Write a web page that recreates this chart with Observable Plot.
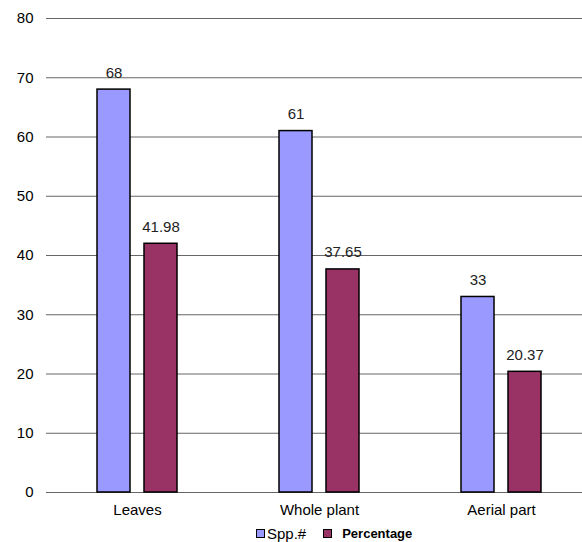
<!DOCTYPE html>
<html><head><meta charset="utf-8">
<script src="https://cdn.jsdelivr.net/npm/d3@7"></script>
<script src="https://cdn.jsdelivr.net/npm/@observablehq/plot@0.6"></script>
<style>
body{margin:0;background:#fff;font-family:"Liberation Sans",Arial,sans-serif;}
#wrap{position:relative;width:582px;height:542px;overflow:hidden;}
#legend{position:absolute;left:256px;top:525px;height:17px;display:flex;align-items:center;font-size:15px;color:#000;white-space:nowrap;}
.sw{display:inline-block;width:7px;height:7px;border:1px solid #000;margin-right:2px;}
</style></head>
<body><div id="wrap"><div id="chart"></div>
<div id="legend"><span class="sw" style="background:#9999FF"></span><span>Spp.#</span><span class="sw" style="background:#993366;margin-left:17px;margin-right:10px"></span><span style="font-weight:bold;font-size:13px">Percentage</span></div></div>
<script>
const categories = ["Leaves", "Whole plant", "Aerial part"];
const series = ["Spp.#", "Percentage"];
const sppValues = [68, 61, 33];
const pctValues = [41.98, 37.65, 20.37];
const yTicks = [0, 10, 20, 30, 40, 50, 60, 70, 80];
const colors = ["#9999FF", "#993366"];

const data = [];
categories.forEach((c, i) => {
  data.push({cat: c, s: series[0], v: sppValues[i], label: String(sppValues[i])});
  data.push({cat: c, s: series[1], v: pctValues[i], label: pctValues[i].toFixed(2)});
});

const chart = Plot.plot({
  width: 582,
  height: 518,
  marginTop: 18,
  marginBottom: 26,
  marginLeft: 45,
  marginRight: 0,
  style: {fontFamily: "'Liberation Sans', Arial, sans-serif", fontSize: "15px", color: "#000", overflow: "visible"},
  fx: {domain: categories, range: [46, 592], padding: 0, label: null},
  x: {domain: series, range: [96, 176], paddingInner: 0.298, paddingOuter: 0, axis: null},
  y: {domain: [0, 80], ticks: yTicks, label: null},
  color: {domain: series, range: colors},
  marks: [
    Plot.ruleY(yTicks, {stroke: "#666", strokeWidth: 1, facet: "exclude"}),
    Plot.barY(data, {fx: "cat", x: "s", y: "v", fill: "s", stroke: "#000", strokeWidth: 1.5}),
    Plot.text(data, {fx: "cat", x: "s", y: "v", text: "label", dy: -12, lineAnchor: "bottom", fontSize: 15, fill: "#222"}),
    Plot.axisY(yTicks, {tickSize: 0, tickPadding: 13, fontSize: 15, tickFormat: d => String(d)}),
    Plot.axisFx({anchor: "bottom", tickSize: 0, tickPadding: 12, fontSize: 15, label: null})
  ]
});
document.getElementById("chart").appendChild(chart);
</script></body></html>
